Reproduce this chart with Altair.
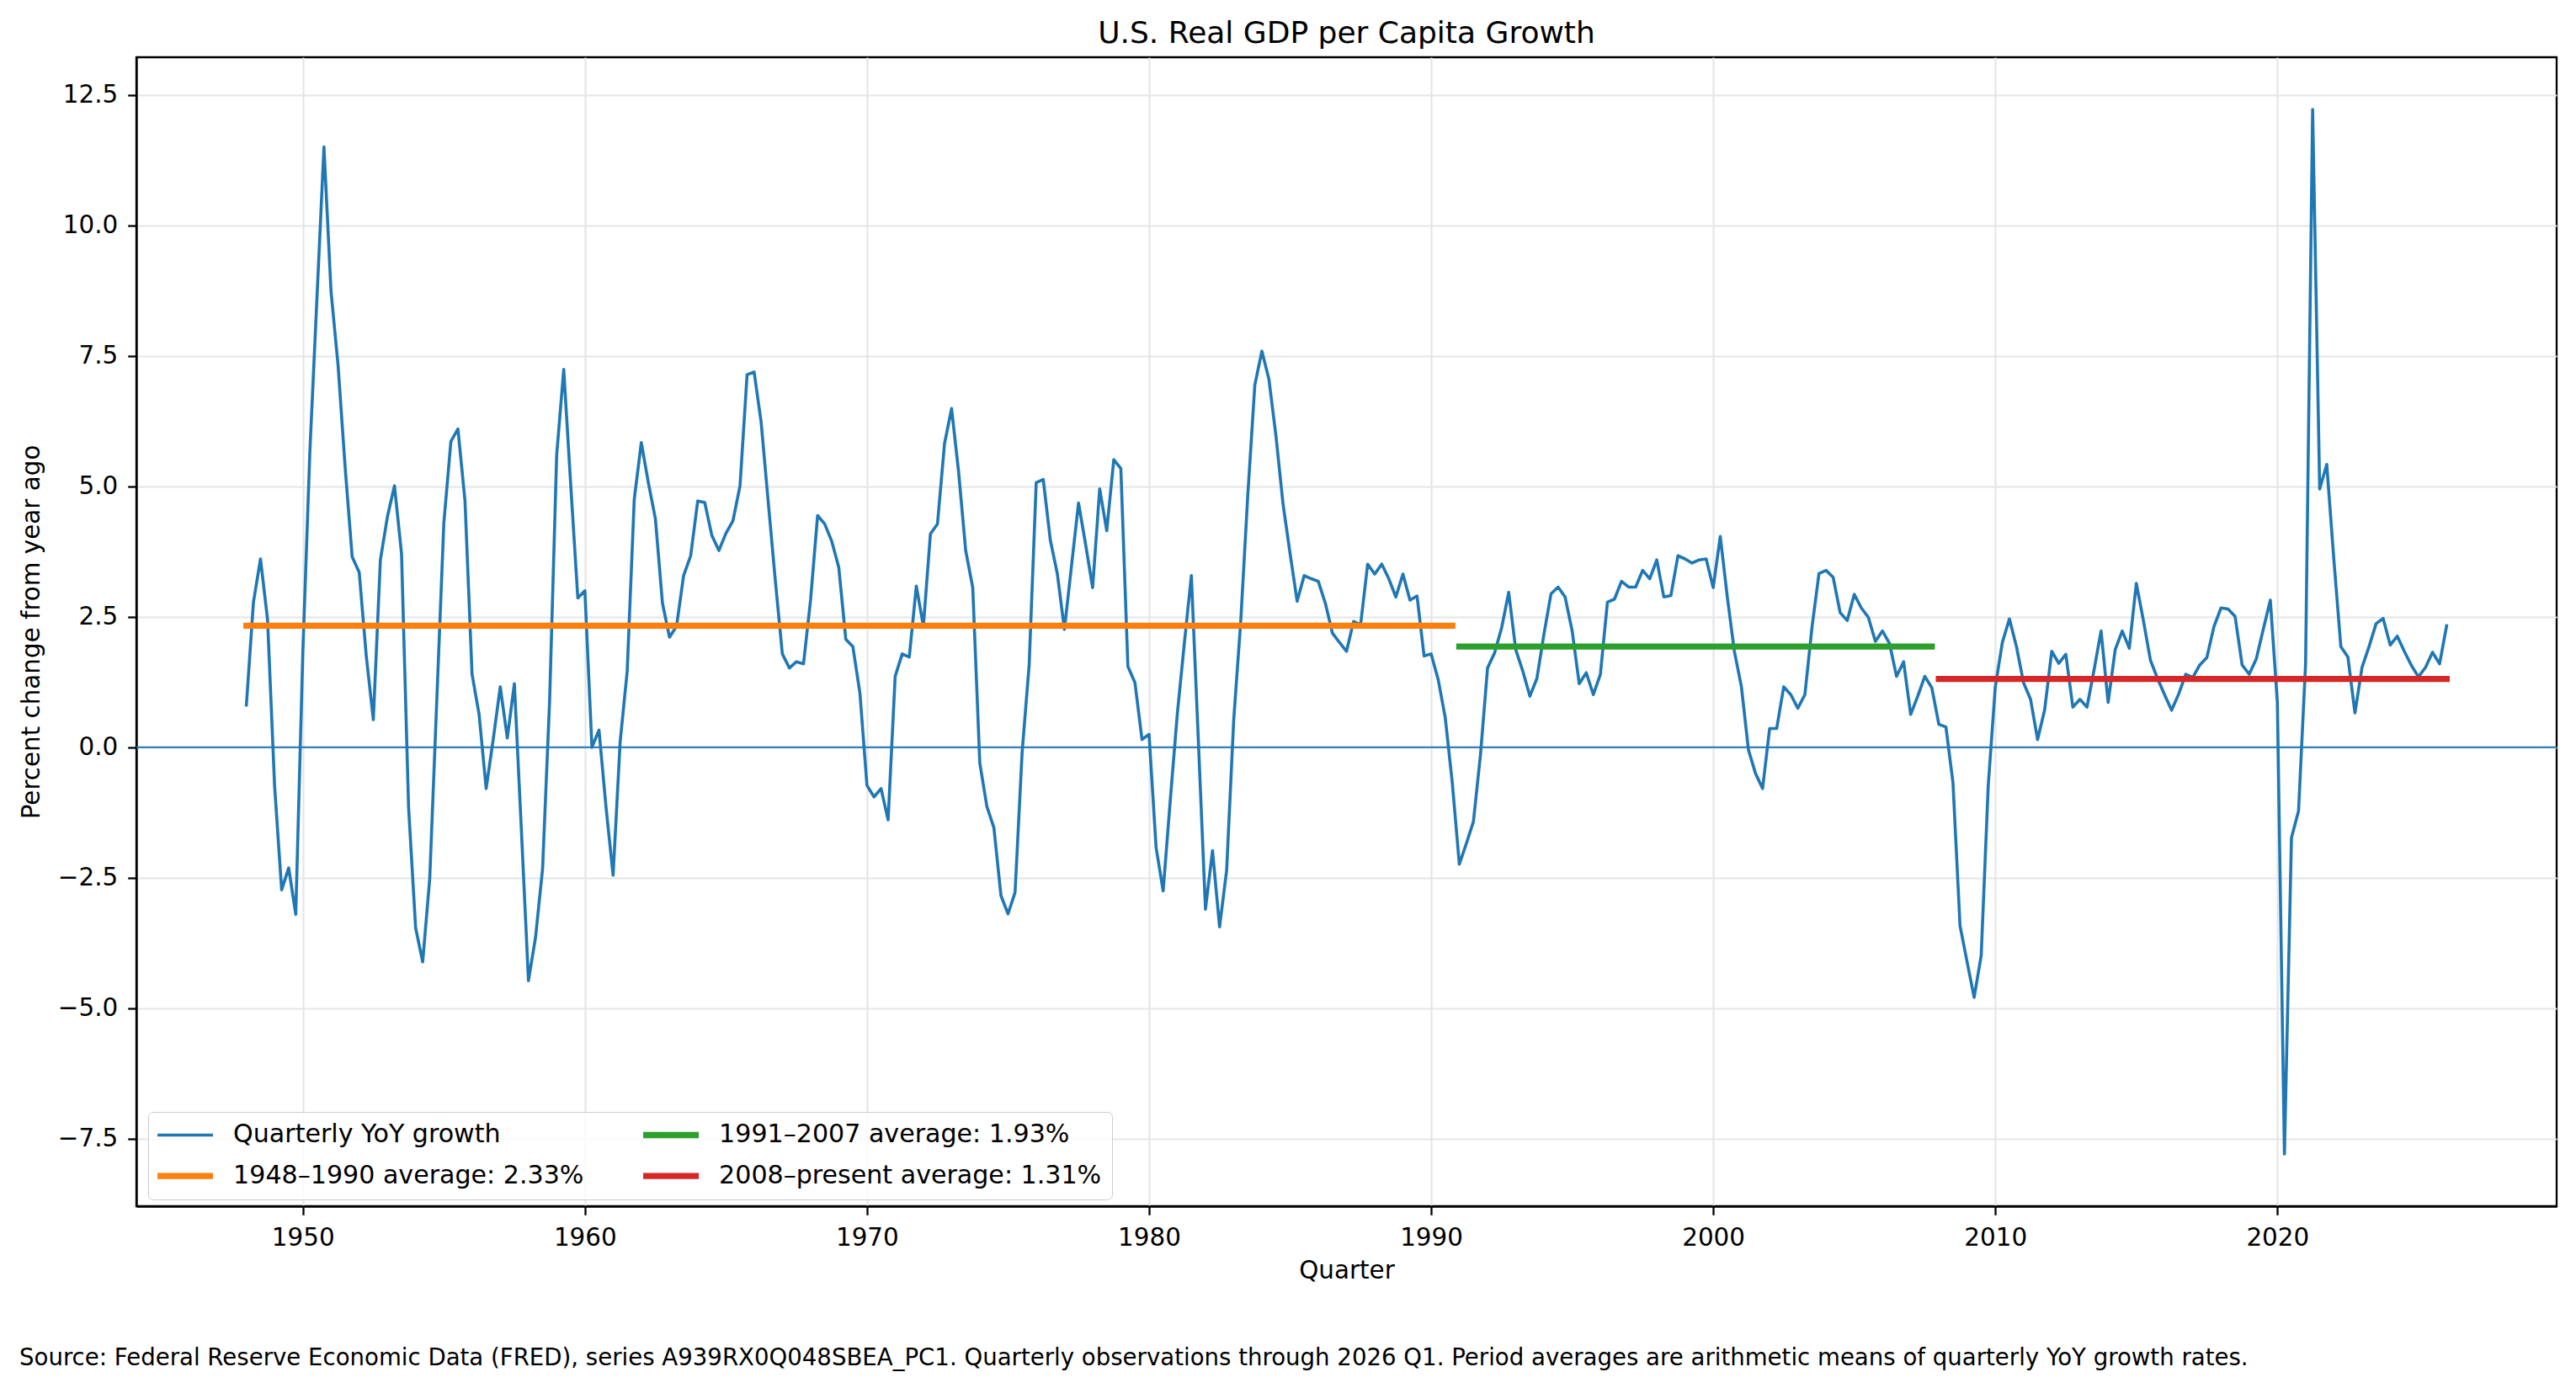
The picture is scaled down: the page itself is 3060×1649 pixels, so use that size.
import altair as alt
import pandas as pd

# Quarterly YoY growth of US real GDP per capita (%), Q1..Q4 per year
start_year = 1948
g_1948_1949 = [0.81, 2.78, 3.61, 2.45, -0.74, -2.73, -2.31, -3.20]
g_1950s = [1.8, 5.66, 8.59, 11.5, 8.74, 7.32, 5.37, 3.65, 3.35, 1.75, 0.53, 3.59,
           4.42, 5.01, 3.71, -1.15, -3.46, -4.11, -2.51, 0.9, 4.30, 5.86, 6.10, 4.72,
           1.40, 0.63, -0.79, 0.15, 1.16, 0.18, 1.22, -1.6, -4.47, -3.64, -2.33, 0.9,
           5.6, 7.24, 5.01, 2.86]
g_1960s = [3.0, 0.0, 0.33, -1.15, -2.45, 0.1, 1.46, 4.75, 5.84, 5.07, 4.38, 2.76,
           2.11, 2.32, 3.29, 3.67, 4.72, 4.69, 4.06, 3.77, 4.10, 4.34, 5.01, 7.14,
           7.19, 6.22, 4.7, 3.2, 1.79, 1.52, 1.64, 1.60, 2.82, 4.44, 4.28, 3.95,
           3.45, 2.07, 1.93, 1.04]
g_1970s = [-0.73, -0.95, -0.79, -1.39, 1.36, 1.79, 1.73, 3.09, 2.32, 4.09, 4.28, 5.82,
           6.49, 5.27, 3.77, 3.06, -0.30, -1.13, -1.54, -2.84, -3.19, -2.78, -0.1, 1.58,
           5.07, 5.13, 3.97, 3.32, 2.26, 3.47, 4.68, 3.89, 3.06, 4.95, 4.15, 5.51,
           5.34, 1.55, 1.24, 0.15]
g_1980s = [0.25, -1.92, -2.75, -1.03, 0.63, 1.99, 3.29, 0.1, -3.10, -1.98, -3.44, -2.36,
           0.51, 2.41, 4.83, 6.94, 7.59, 7.05, 5.96, 4.66, 3.71, 2.80, 3.29, 3.23,
           3.18, 2.76, 2.19, 2.01, 1.84, 2.41, 2.35, 3.51, 3.32, 3.51, 3.23, 2.88,
           3.32, 2.82, 2.90, 1.75]
g_1990s = [1.79, 1.30, 0.57, -0.68, -2.24, -1.84, -1.42, -0.14, 1.52, 1.81, 2.29, 2.97,
           1.87, 1.46, 0.98, 1.32, 2.17, 2.94, 3.07, 2.88, 2.23, 1.22, 1.43, 1.01,
           1.40, 2.78, 2.84, 3.18, 3.07, 3.07, 3.39, 3.23, 3.59, 2.88, 2.91, 3.67,
           3.61, 3.53, 3.59, 3.61]
g_2000s = [3.06, 4.04, 2.88, 1.84, 1.16, -0.05, -0.50, -0.79, 0.36, 0.36, 1.16, 1.01,
           0.75, 1.01, 2.29, 3.33, 3.39, 3.26, 2.58, 2.43, 2.93, 2.67, 2.49, 2.03,
           2.23, 1.99, 1.36, 1.64, 0.63, 0.98, 1.36, 1.14, 0.44, 0.39, -0.68, -3.42,
           -4.11, -4.79, -3.99, -0.73]
g_2010s = [1.16, 2.01, 2.46, 1.93, 1.24, 0.92, 0.15, 0.72, 1.84, 1.61, 1.78, 0.77,
           0.92, 0.77, 1.48, 2.23, 0.86, 1.87, 2.23, 1.90, 3.14, 2.43, 1.67, 1.32,
           1.01, 0.71, 1.02, 1.40, 1.34, 1.58, 1.72, 2.31, 2.67, 2.65, 2.51, 1.58,
           1.40, 1.69, 2.26, 2.82]
g_2020s = [0.86, -7.79, -1.73, -1.22, 1.6, 12.22, 4.95, 5.42, 3.61, 1.93, 1.73, 0.66,
           1.53, 1.93, 2.37, 2.47, 1.96, 2.13, 1.84, 1.57, 1.35, 1.53, 1.82, 1.60,
           2.33]

growth = g_1948_1949 + g_1950s + g_1960s + g_1970s + g_1980s + g_1990s + g_2000s + g_2010s + g_2020s
quarters = [start_year + i / 4 for i in range(len(growth))]

series_name = "Quarterly YoY growth"
avg_labels = ["1948\u20131990 average: 2.33%", "1991\u20132007 average: 1.93%", "2008\u2013present average: 1.31%"]
avg_values = [2.33, 1.93, 1.31]
avg_start = [1948.0, 1991.0, 2008.0]
avg_end = [1990.75, 2007.75, 2026.0]

x_ticks = [1950, 1960, 1970, 1980, 1990, 2000, 2010, 2020]
y_ticks = [-7.5, -5.0, -2.5, 0.0, 2.5, 5.0, 7.5, 10.0, 12.5]

title_text = "U.S. Real GDP per Capita Growth"
x_title = "Quarter"
y_title = "Percent change from year ago"
source_text = ("Source: Federal Reserve Economic Data (FRED), series A939RX0Q048SBEA_PC1. "
               "Quarterly observations through 2026 Q1. Period averages are arithmetic means "
               "of quarterly YoY growth rates.")

line_df = pd.DataFrame({"quarter": quarters, "growth": growth, "series": series_name})
avg_df = pd.DataFrame({"series": avg_labels, "start": avg_start, "end": avg_end, "value": avg_values})
zero_df = pd.DataFrame({"value": [0.0]})
note_df = pd.DataFrame({"text": [source_text]})

FONT = "DejaVu Sans"
FS = 29.4

# Vega fills legend columns top-to-bottom here, matching the reference layout
legend_order = [series_name, avg_labels[0], avg_labels[1], avg_labels[2]]
legend_colors = ["#1f77b4", "#ff7f0e", "#2ca02c", "#d62728"]
legend_widths = [3.6, 7.3, 7.3, 7.3]

x_scale = alt.Scale(domain=[1944.1, 2029.9], nice=False, zero=False)
y_scale = alt.Scale(domain=[-8.79, 13.22], nice=False, zero=False)


def make_legend():
    # long horizontal stroke drawn from a small symbol box, so rows stay compact
    return alt.Legend(
        title=None, orient="none", legendX=14, legendY=1253, columns=2,
        columnPadding=55, rowPadding=18, symbolType="M-1,0H5", symbolSize=484,
        symbolOffset=-5, labelOffset=64, labelFontSize=30.1, labelFont=FONT,
        labelColor="black", padding=12, fillColor="rgba(255,255,255,0.8)",
        strokeColor="#cccccc", cornerRadius=6, labelLimit=0,
    )


color_enc = alt.Color("series:N", scale=alt.Scale(domain=legend_order, range=legend_colors),
                      legend=make_legend())
width_enc = alt.StrokeWidth("series:N",
                            scale=alt.Scale(type="ordinal", domain=legend_order, range=legend_widths),
                            legend=make_legend())

x_axis = alt.Axis(
    values=x_ticks, format="d", title=x_title, grid=True,
    labelBaseline="alphabetic", labelPadding=36,
    titleX=1437.5, titleY=85, titleBaseline="alphabetic", titleAlign="center",
)
y_axis = alt.Axis(
    values=y_ticks, format=".1f", title=y_title, grid=True,
    labelPadding=12,
    titleX=-116, titleY=682.5, titleBaseline="alphabetic", titleAlign="center", titleAngle=270,
)

zero_line = alt.Chart(zero_df).mark_rule(color="#1f77b4", strokeWidth=2).encode(
    y=alt.Y("value:Q", scale=y_scale, axis=y_axis)
)

line = alt.Chart(line_df).mark_line(strokeJoin="round", strokeCap="square").encode(
    x=alt.X("quarter:Q", scale=x_scale, axis=x_axis),
    y=alt.Y("growth:Q", scale=y_scale, axis=y_axis),
    color=color_enc,
    strokeWidth=width_enc,
)

avg_rules = alt.Chart(avg_df).mark_rule(strokeCap="square").encode(
    x=alt.X("start:Q", scale=x_scale, axis=x_axis),
    x2="end:Q",
    y=alt.Y("value:Q", scale=y_scale, axis=y_axis),
    color=color_enc,
    strokeWidth=width_enc,
)

note = alt.Chart(note_df).mark_text(
    align="left", baseline="alphabetic", font=FONT, fontSize=27.6, color="black"
).encode(
    text="text:N", x=alt.value(-139), y=alt.value(1554)
)

chart = alt.layer(zero_line, line, avg_rules, note).properties(
    width=2875, height=1365,
    title=alt.TitleParams(title_text, font=FONT, fontSize=36, fontWeight="normal",
                          color="black", anchor="middle", offset=-19, baseline="alphabetic"),
    autosize=alt.AutoSizeParams(type="none"),
    padding={"left": 154, "top": 60, "right": 10, "bottom": 200},
    background="white",
).resolve_scale(color="shared", strokeWidth="shared").configure_view(
    stroke="black", strokeWidth=2.3
).configure_axis(
    labelFont=FONT, labelFontSize=FS, labelColor="black",
    titleFont=FONT, titleFontSize=FS, titleColor="black", titleFontWeight="normal",
    domainColor="black", domainWidth=2.3, tickColor="black", tickWidth=2.3, tickSize=10.3,
    gridColor="#e6e6e6", gridWidth=2.2,
)

chart.save("out.html", embed_options={"renderer": "svg", "actions": False})
